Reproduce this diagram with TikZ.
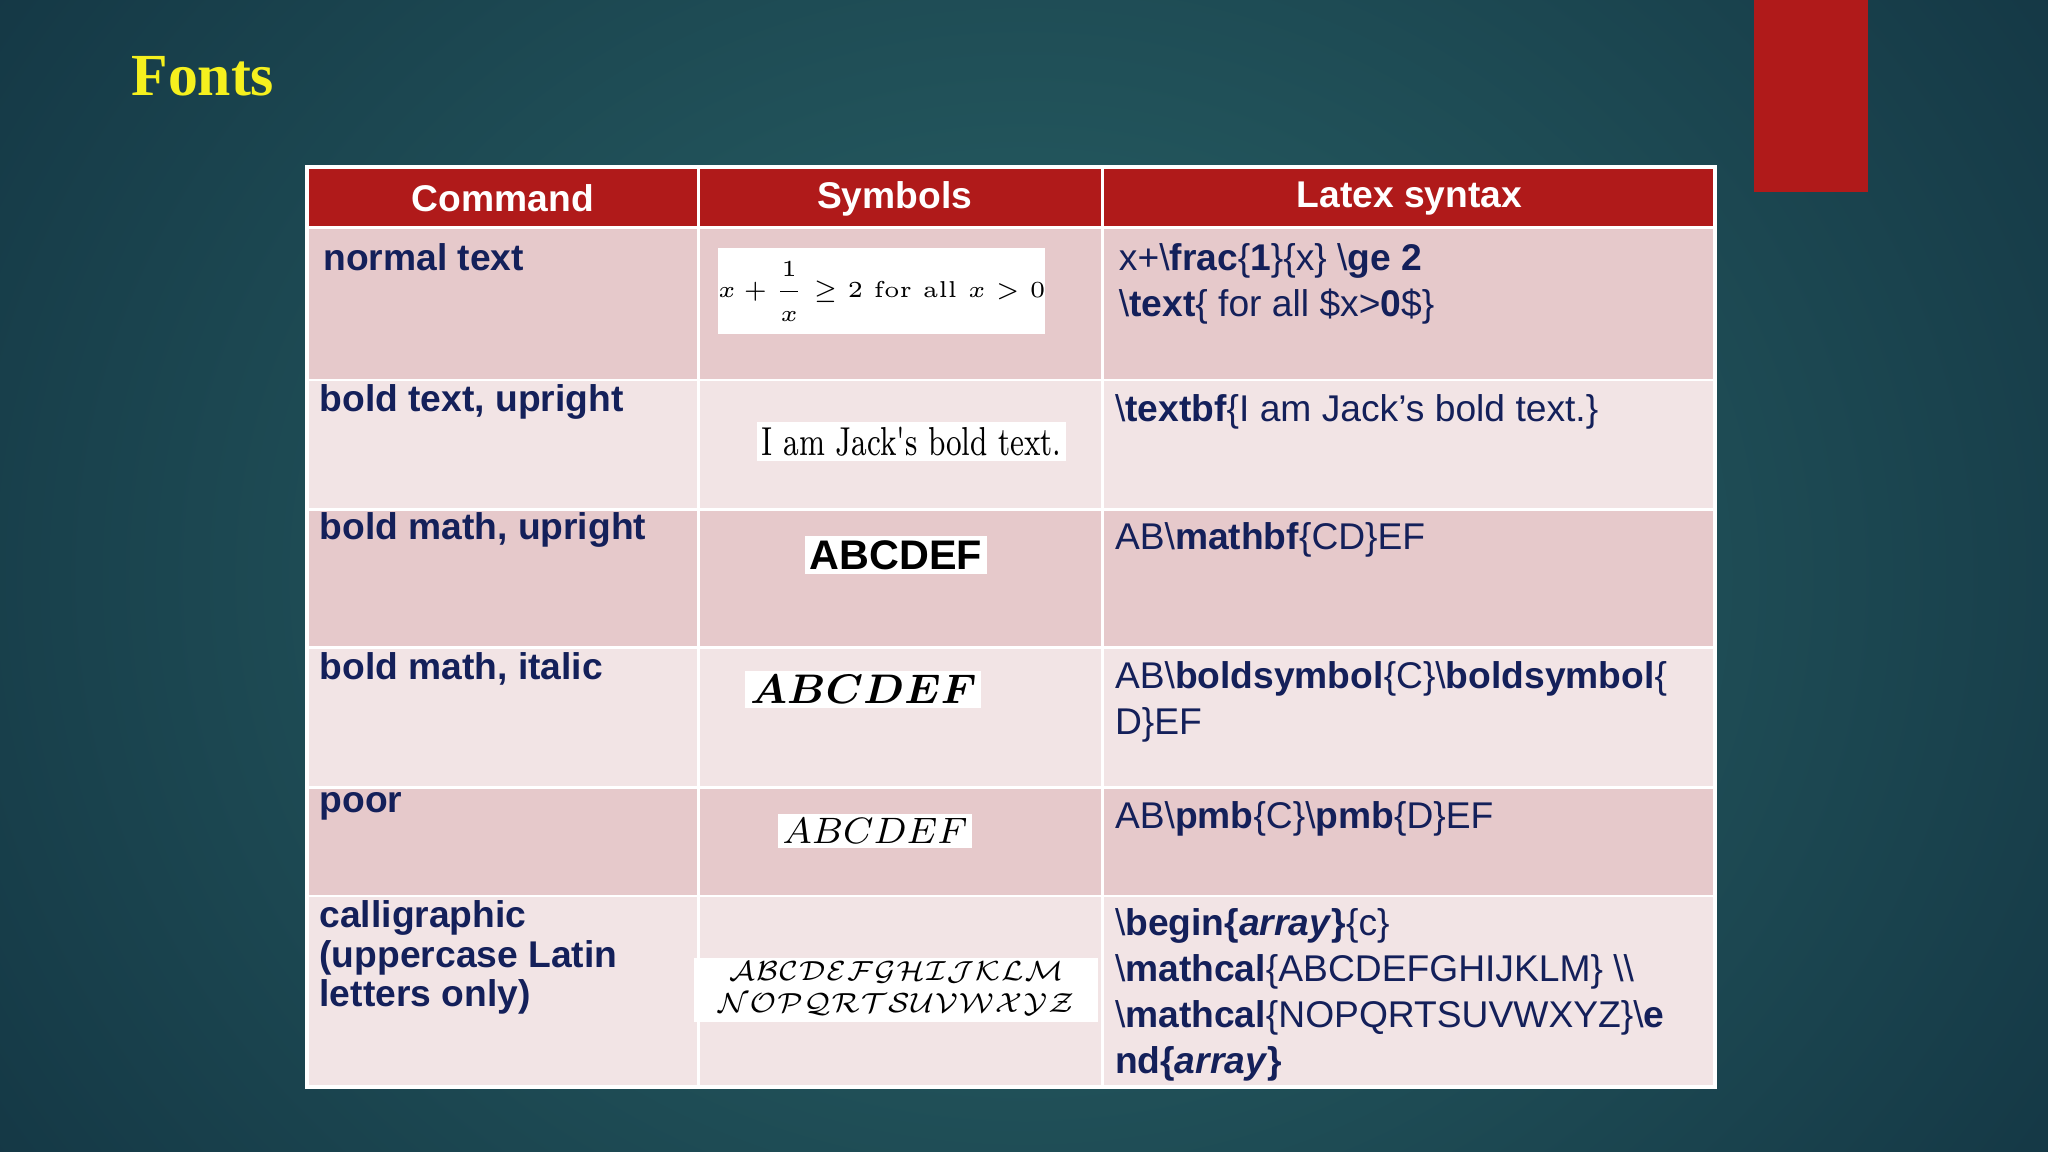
\documentclass[tikz,border=0pt]{standalone}
\usepackage{fontspec}
\usepackage{amsmath,amssymb}
\setmainfont{Liberation Sans}
\newfontfamily\titlefont{Liberation Serif}
\newfontfamily\lmfont{Latin Modern Roman}
\usetikzlibrary{positioning}
\definecolor{bgmid}{HTML}{2B6669}
\definecolor{bgedge}{HTML}{113140}
\definecolor{hdred}{HTML}{B01A1A}
\definecolor{rowdark}{HTML}{E6C9CB}
\definecolor{rowlight}{HTML}{F2E4E5}
\definecolor{navy}{HTML}{14205A}
\definecolor{ttl}{HTML}{F5F01E}
\begin{document}
\begin{tikzpicture}
 [
  x=0.01cm,y=-0.01cm,
  cell/.style={anchor=north west,inner sep=0pt,text=navy,font=\fontsize{8.1}{10}\selectfont,align=left},
  cmd/.style={cell,font=\bfseries\fontsize{8.1}{7.4}\selectfont},
  hd/.style={text=white,font=\bfseries\fontsize{8.1}{9}\selectfont},
  sym/.style={fill=white,inner sep=1pt},
 ]
  \useasboundingbox (0,0) rectangle (1568,882);
  \shade[inner color=bgmid,outer color=bgedge] (-300,-500) rectangle (1868,1382);
  \fill[hdred] (1343,0) rectangle (1430,147);
  \node[anchor=west,text=ttl,font=\titlefont\bfseries\fontsize{13}{14}\selectfont,inner sep=0pt] (title) at (100,58) {Fonts};
  % table
  \fill[hdred] (235,128) rectangle (1313,174);
  \foreach \ya/\yb/\c in {174/291/rowdark,291/390/rowlight,390/496/rowdark,496/603/rowlight,603/686/rowdark,686/832/rowlight}
    \fill[\c] (235,\ya) rectangle (1313,\yb);
  \foreach \yy in {174,291,390,496,603,686}
    \draw[white,line width=0.6pt] (235,\yy) -- (1313,\yy);
  \draw[white,line width=0.6pt] (535,128) -- (535,832) (844,128) -- (844,832);
  \draw[white,line width=0.8pt] (235,128) rectangle (1313,832);
  \node[hd] (h1) at (385,152) {Command};
  \node[hd] (h2) at (685,152) {Symbols};
  \node[hd] (h3) at (1079,152) {Latex syntax};
  % command column
  \node[cmd] (c1) at (247,186) {normal text};
  \node[cmd] (c2) at (244,294) {bold text, upright};
  \node[cmd] (c3) at (244,392) {bold math, upright};
  \node[cmd] (c4) at (244,499) {bold math, italic};
  \node[cmd] (c5) at (244,606) {poor};
  \node[cmd] (c6) at (244,689) {calligraphic\\(uppercase Latin\\letters only)};
  % symbols column
  \node[sym,minimum width=1.52cm,minimum height=0.66cm,inner sep=0pt,font=\lmfont\fontsize{5}{6}\selectfont] (s1) at (675,223) {$x+\dfrac{1}{x}\ge 2\text{ for all }x>0$};
  \node[sym,font=\lmfont\fontsize{8}{9}\selectfont] (s2) at (698,338) {\scalebox{0.8}[1.1]{I am Jack's bold text.}};
  \node[sym,font=\lmfont\fontsize{9}{10}\selectfont] (s3) at (686,425) {$\mathbf{ABCDEF}$};
  \node[sym,font=\lmfont\fontsize{9}{10}\selectfont] (s4) at (661,528) {$\boldsymbol{ABCDEF}$};
  \node[sym,font=\lmfont\fontsize{8}{9}\selectfont] (s5) at (670,636) {$ABCDEF$};
  \node[sym,inner sep=0pt,font=\lmfont\fontsize{6.2}{7}\selectfont] (s6) at (686,758) {$\begin{array}{c}\mathcal{ABCDEFGHIJKLM}\\\mathcal{NOPQRTSUVWXYZ}\end{array}$};
  % syntax column
  \node[cell] (l1) at (856,186) {x+\textbackslash\textbf{frac}\{\textbf{1}\}\{x\} \textbackslash\textbf{ge 2}\\\textbackslash\textbf{text}\{ for all \$x>\textbf{0}\$\}};
  \node[cell] (l2) at (853,301) {\textbackslash\textbf{textbf}\{I am Jack's bold text.\}};
  \node[cell] (l3) at (853,399) {AB\textbackslash\textbf{mathbf}\{CD\}EF};
  \node[cell] (l4) at (853,506) {AB\textbackslash\textbf{boldsymbol}\{C\}\textbackslash\textbf{boldsymbol}\{\\D\}EF};
  \node[cell] (l5) at (853,613) {AB\textbackslash\textbf{pmb}\{C\}\textbackslash\textbf{pmb}\{D\}EF};
  \node[cell] (l6) at (853,695) {\textbackslash\textbf{begin\{\textit{array}\}}\{c\}\\\textbackslash\textbf{mathcal}\{ABCDEFGHIJKLM\} \textbackslash\textbackslash\\\textbackslash\textbf{mathcal}\{NOPQRTSUVWXYZ\}\textbackslash\textbf{e}\\\textbf{nd\{\textit{array}\}}};
\end{tikzpicture}
\end{document}
